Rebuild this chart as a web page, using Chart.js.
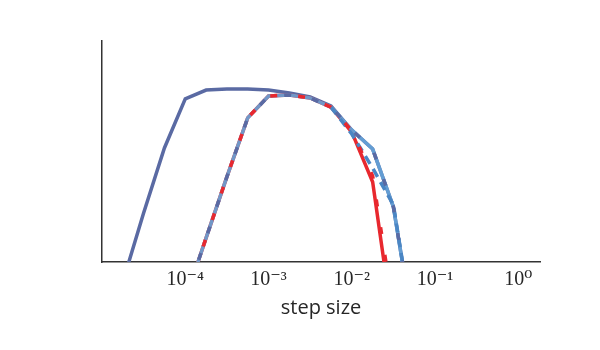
<!DOCTYPE html>
<html>
<head>
<meta charset="utf-8">
<script src="https://cdn.jsdelivr.net/npm/chart.js@4/dist/chart.umd.min.js"></script>
<style>
  html, body { margin: 0; padding: 0; background: #ffffff; }
  #wrap { width: 600px; height: 350px; }
</style>
</head>
<body>
<div id="wrap"><canvas id="c" width="600" height="350"></canvas></div>
<script>
// ---- data ----
const stepSizes = [1.78e-5, 3.16e-5, 5.62e-5, 1e-4, 1.78e-4, 3.16e-4, 5.62e-4, 1e-3,
                   1.78e-3, 3.16e-3, 5.62e-3, 1e-2, 1.78e-2, 3.16e-2, 5.62e-2];

const slateSolid   = [-0.09, 0.222, 0.516, 0.738, 0.778, 0.783, 0.783, 0.778,
                      0.765, 0.747, 0.706, 0.597, 0.511, 0.249, -0.33];
const lightBlue    = [null, null, null, -0.17, 0.109, 0.385, 0.652, 0.751,
                      0.756, 0.742, 0.701, 0.597, 0.511, 0.249, -0.33];
const redSolid     = [null, null, null, -0.17, 0.109, 0.385, 0.652, 0.751,
                      0.756, 0.742, 0.701, 0.588, 0.362, -0.30, null];
const redDashed    = [null, null, null, -0.17, 0.109, 0.385, 0.652, 0.751,
                      0.756, 0.742, 0.701, 0.593, 0.389, -0.22, null];
const blueDashed   = [null, null, null, null, null, null, null, null,
                      null, null, 0.701, 0.579, 0.425, 0.258, -0.33];
const slateDashed  = [null, null, null, -0.17, 0.109, 0.385, 0.652, 0.751,
                      0.756, 0.742, 0.701, 0.597, 0.511, 0.249, -0.33];

const tickValues = [1e-4, 1e-3, 1e-2, 1e-1, 1];
const tickLabels = ['10\u207B\u2074', '10\u207B\u00B3', '10\u207B\u00B2', '10\u207B\u00B9', '10\u2070'];

const xLabel = 'step size';

function pts(arr) {
  return stepSizes.map((x, i) => ({ x: x, y: arr[i] }));
}

const SLATE = '#5a6aa3';
const LBLUE = 'rgba(100,163,216,0.9)';
const RED = '#e8282e';
const MBLUE = '#4a86c4';

function ds(data, color, order, dash, offset) {
  return {
    data: pts(data),
    borderColor: color,
    backgroundColor: color,
    borderWidth: 3.5,
    pointRadius: 0,
    tension: 0,
    fill: false,
    spanGaps: false,
    clip: 0,
    order: order,
    borderDash: dash || [],
    borderDashOffset: offset || 0,
    borderCapStyle: 'butt',
    borderJoinStyle: 'miter'
  };
}

new Chart(document.getElementById('c'), {
  type: 'line',
  data: {
    datasets: [
      ds(slateSolid, SLATE, 6),
      ds(redSolid, RED, 5),
      ds(lightBlue, LBLUE, 4),
      ds(blueDashed, MBLUE, 3, [9, 6], 0),
      ds(redDashed, RED, 2, [7, 21], 0),
      ds(slateDashed, SLATE, 1, [7, 21], 14)
    ]
  },
  options: {
    responsive: false,
    animation: false,
    events: [],
    layout: { padding: { left: 102, right: 60, top: 41, bottom: 30 } },
    plugins: { legend: { display: false }, tooltip: { enabled: false } },
    scales: {
      x: {
        type: 'logarithmic',
        min: 1e-5,
        max: 1.82,
        grid: { display: false, drawTicks: false },
        border: { display: true, color: '#333333', width: 1.5 },
        afterBuildTicks: (scale) => { scale.ticks = tickValues.map(v => ({ value: v })); },
        ticks: {
          autoSkip: false,
          maxRotation: 0,
          padding: 6,
          color: '#262626',
          font: { family: "'Liberation Serif', 'DejaVu Serif', serif", size: 20 },
          callback: (v) => tickLabels[tickValues.findIndex(t => Math.abs(Math.log10(t) - Math.log10(v)) < 1e-6)]
        },
        title: {
          display: true,
          text: xLabel,
          color: '#262626',
          padding: { top: -2, bottom: 0 },
          font: { family: "'Open Sans', 'DejaVu Sans', sans-serif", size: 20 }
        }
      },
      y: {
        min: 0,
        max: 1,
        grid: { display: false, drawTicks: false },
        border: { display: true, color: '#333333', width: 1.5 },
        ticks: { display: false }
      }
    }
  }
});
</script>
</body>
</html>
